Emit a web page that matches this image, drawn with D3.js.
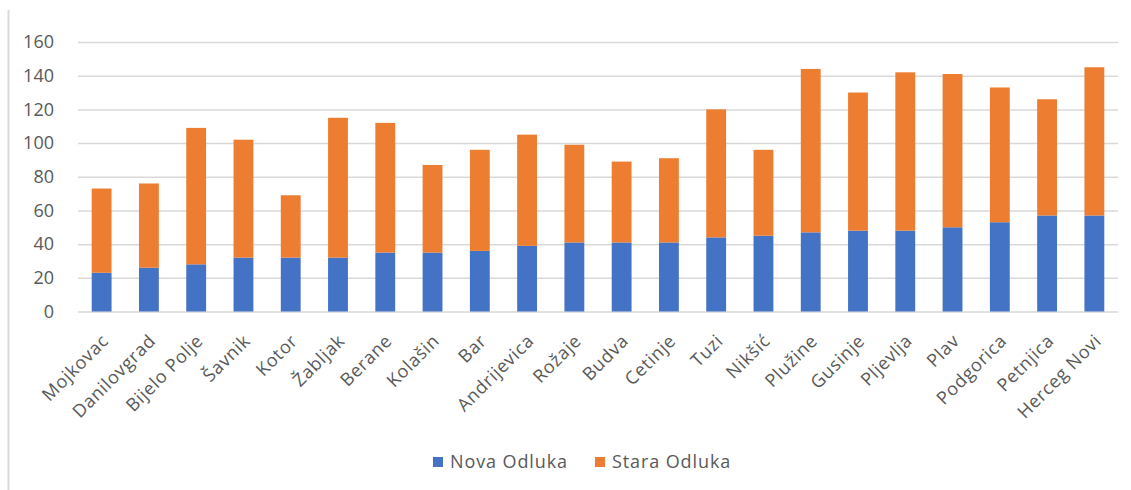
<!DOCTYPE html>
<meta charset="utf-8">
<style>
body { margin: 0; background: #fff; }
svg { display: block; }
text { font-family: "Open Sans", sans-serif; fill: #595959; }
.grid line { stroke: #d9d9d9; stroke-width: 1.5px; }
.grid path { display: none; }
</style>
<svg width="1131" height="490"></svg>
<script src="https://d3js.org/d3.v7.min.js"></script>
<script>

const towns = ['Mojkovac', 'Danilovgrad', 'Bijelo Polje', 'Šavnik', 'Kotor', 'Žabljak', 'Berane',
  'Kolašin', 'Bar', 'Andrijevica', 'Rožaje', 'Budva', 'Cetinje', 'Tuzi', 'Nikšić', 'Plužine',
  'Gusinje', 'Pljevlja', 'Plav', 'Podgorica', 'Petnjica', 'Herceg Novi'];
const nova = [23, 26, 28, 32, 32, 32, 35, 35, 36, 39, 41, 41, 41, 44, 45, 47, 48, 48, 50, 53, 57, 57];
const stara = [50, 50, 81, 70, 37, 83, 77, 52, 60, 66, 58, 48, 50, 76, 51, 97, 82, 94, 91, 80, 69, 88];
const seriesNames = ['Nova Odluka', 'Stara Odluka'];
const colors = ['#4472c4', '#ed7d31'];
const yTicks = [0, 20, 40, 60, 80, 100, 120, 140, 160];

const svg = d3.select('svg');

// chart frame, only the left edge shows in the picture
svg.append('line')
  .attr('x1', 8.5).attr('x2', 8.5)
  .attr('y1', 10).attr('y2', 490)
  .attr('stroke', '#d9d9d9')
  .attr('stroke-width', 2);

const x = d3.scaleBand()
  .domain(towns)
  .range([78, 1118])
  .paddingInner(0.58)
  .paddingOuter(0.29);

const y = d3.scaleLinear()
  .domain([0, 160])
  .range([311.5, 42]);

svg.append('g')
  .attr('class', 'grid')
  .attr('transform', 'translate(78,0)')
  .call(d3.axisLeft(y).tickValues(yTicks).tickSize(-1040).tickFormat(''));

svg.append('g')
  .selectAll('text')
  .data(yTicks)
  .enter().append('text')
    .attr('x', 54)
    .attr('y', d => y(d))
    .attr('dy', '0.35em')
    .attr('text-anchor', 'end')
    .style('font-size', '18px')
    .text(d => d);

const rows = towns.map((t, i) => ({ town: t, nova: nova[i], stara: stara[i] }));
const stack = d3.stack().keys(['nova', 'stara'])(rows);

svg.append('g')
  .selectAll('g')
  .data(stack)
  .enter().append('g')
    .attr('fill', (d, i) => colors[i])
  .selectAll('rect')
  .data(d => d)
  .enter().append('rect')
    .attr('x', d => x(d.data.town))
    .attr('width', x.bandwidth())
    .attr('y', d => y(d[1]))
    .attr('height', d => y(d[0]) - y(d[1]));

svg.append('g')
  .selectAll('text')
  .data(towns)
  .enter().append('text')
    .attr('transform', d => `translate(${x(d) + x.bandwidth() / 2 + 8},342) rotate(-45)`)
    .attr('text-anchor', 'end')
    .style('font-size', '18px')
    .style('letter-spacing', '0.7px')
    .text(d => d);

// legend
const legend = svg.append('g');
const legendX = [433, 595];
seriesNames.forEach((name, i) => {
  legend.append('rect')
    .attr('x', legendX[i]).attr('y', 457)
    .attr('width', 10).attr('height', 10)
    .attr('fill', colors[i]);
  legend.append('text')
    .attr('x', legendX[i] + 17)
    .attr('y', 462)
    .attr('dy', '0.35em')
    .style('font-size', '18px')
    .style('letter-spacing', '0.9px')
    .text(name);
});

</script>
